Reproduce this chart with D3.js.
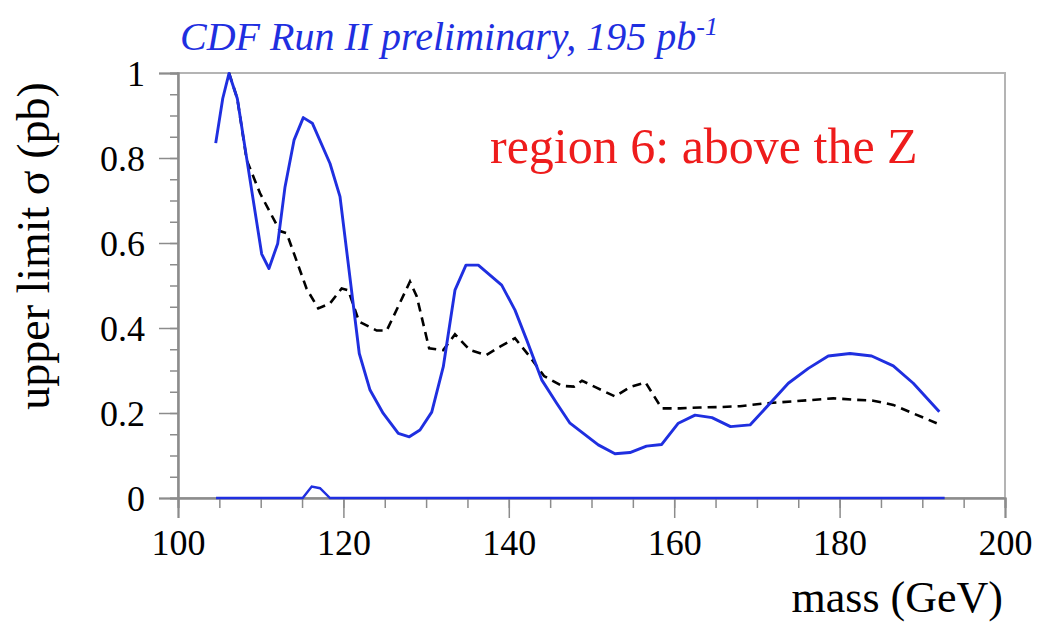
<!DOCTYPE html>
<html><head><meta charset="utf-8">
<script src="https://cdn.jsdelivr.net/npm/d3@7"></script>
<style>html,body{margin:0;padding:0;background:#fff;}svg{display:block;}</style>
</head><body>
<svg id="c" width="1042" height="625"></svg>
<script>
// observed upper limit (solid blue)
const obsMass = [104.56,105.41,106.17,107.17,110.12,111.00,112.06,112.94,114.03,115.15,116.24,118.38,119.59,121.92,123.22,124.82,126.64,127.97,129.26,130.68,132.08,133.49,134.82,136.31,139.14,140.75,142.16,143.98,145.79,147.40,150.82,152.84,154.65,156.65,158.49,160.50,162.52,164.57,166.81,169.17,171.79,173.80,176.22,178.63,181.26,183.88,186.49,188.91,192.06];
const obsLimit = [0.835,0.940,0.999,0.940,0.574,0.540,0.599,0.732,0.842,0.895,0.882,0.787,0.709,0.340,0.254,0.199,0.152,0.144,0.160,0.202,0.309,0.489,0.548,0.548,0.501,0.442,0.372,0.278,0.223,0.176,0.125,0.104,0.107,0.122,0.126,0.176,0.195,0.189,0.168,0.172,0.227,0.270,0.305,0.334,0.340,0.334,0.311,0.270,0.203];
// expected limit (dashed black)
const expMass = [106.17,107.17,108.31,109.92,112.33,113.14,115.56,116.96,118.38,119.79,120.59,121.89,124.03,125.24,128.05,128.86,130.37,132.08,133.49,135.31,137.24,138.94,140.75,142.56,144.26,146.40,147.88,148.85,150.66,152.84,154.65,156.53,158.49,160.70,163.12,165.54,167.96,171.19,174.81,179.24,182.07,184.08,186.49,188.91,191.74];
const expLimit = [1.0,0.940,0.795,0.717,0.628,0.623,0.492,0.446,0.458,0.493,0.489,0.415,0.394,0.394,0.509,0.475,0.352,0.348,0.385,0.348,0.336,0.356,0.376,0.332,0.287,0.264,0.262,0.276,0.259,0.239,0.261,0.272,0.211,0.211,0.213,0.214,0.216,0.223,0.228,0.2345,0.231,0.229,0.219,0.199,0.176];
// lower curve near zero (solid blue)
const lowMass = [104.6,115.08,116.17,117.17,118.38,192.7];
const lowLimit = [0,0,0.027,0.023,0,0];
// axes
const xTicks = [100,120,140,160,180,200];
const yTicks = [0,0.2,0.4,0.6,0.8,1];
const yTickLabels = ["0","0.2","0.4","0.6","0.8","1"];

const svg = d3.select("#c");
const L=178, R=1005, T=73, B=498;
const x = d3.scaleLinear().domain([100,200]).range([L,R]);
const y = d3.scaleLinear().domain([0,1]).range([B,T]);
const grey = "#8c8c8c";
const serif = "'Liberation Serif','Times New Roman',serif";

// frame
svg.append("rect").attr("x",L).attr("y",T).attr("width",R-L).attr("height",B-T)
  .attr("fill","none").attr("stroke","#b4b4b4").attr("stroke-width",2);

// minor ticks
const gyMinor = svg.append("g").attr("transform",`translate(${L},0)`)
  .call(d3.axisLeft(y).tickValues(d3.range(0,1.0001,0.05)).tickSize(8).tickFormat(""));
const gxMinor = svg.append("g").attr("transform",`translate(0,${B})`)
  .call(d3.axisBottom(x).tickValues(d3.range(100,200.001,5)).tickSize(10).tickFormat(""));
// major ticks with labels
const gy = svg.append("g").attr("transform",`translate(${L},0)`)
  .call(d3.axisLeft(y).tickValues(yTicks).tickSize(19).tickPadding(14)
    .tickFormat((d,i)=>yTickLabels[i]));
const gx = svg.append("g").attr("transform",`translate(0,${B})`)
  .call(d3.axisBottom(x).tickValues(xTicks).tickSize(20).tickPadding(11).tickFormat(d3.format("d")));
[gyMinor,gxMinor,gy,gx].forEach(g=>{
  g.selectAll(".domain").attr("stroke",grey).attr("stroke-width",2);
  g.selectAll(".tick line").attr("stroke",grey).attr("stroke-width",1.5);
  g.selectAll("text").attr("font-family",serif).attr("font-size",36).attr("fill","#000");
});
gy.selectAll("text").attr("dy","0.34em");

// lines
const line = d3.line().x(d=>x(d[0])).y(d=>y(d[1]));
svg.append("path").datum(d3.zip(expMass,expLimit)).attr("d",line)
  .attr("fill","none").attr("stroke","#000").attr("stroke-width",2.6).attr("stroke-dasharray","9,6");
svg.append("path").datum(d3.zip(obsMass,obsLimit)).attr("d",line)
  .attr("fill","none").attr("stroke","#1f2fe0").attr("stroke-width",2.9).attr("stroke-linejoin","round");
svg.append("path").datum(d3.zip(lowMass,lowLimit)).attr("d",line)
  .attr("fill","none").attr("stroke","#1f2fe0").attr("stroke-width",2.4);

// texts
const title = svg.append("text").attr("x",180).attr("y",50).attr("font-family",serif)
  .attr("font-style","italic").attr("font-size",40).attr("fill","#1f2fe0");
title.append("tspan").text("CDF Run II preliminary, 195 pb");
title.append("tspan").attr("dy",-15).attr("font-size",26).text("-1");

svg.append("text").attr("x",490).attr("y",163).attr("font-family",serif)
  .attr("font-size",50).attr("fill","#ee1c1c").text("region 6: above the Z");

svg.append("text").attr("transform","translate(49,246) rotate(-90)").attr("text-anchor","middle")
  .attr("font-family",serif).attr("font-size",46).attr("fill","#000").text("upper limit σ (pb)");

svg.append("text").attr("x",1003).attr("y",612).attr("text-anchor","end")
  .attr("font-family",serif).attr("font-size",44).attr("fill","#000").text("mass (GeV)");
</script>
</body></html>
